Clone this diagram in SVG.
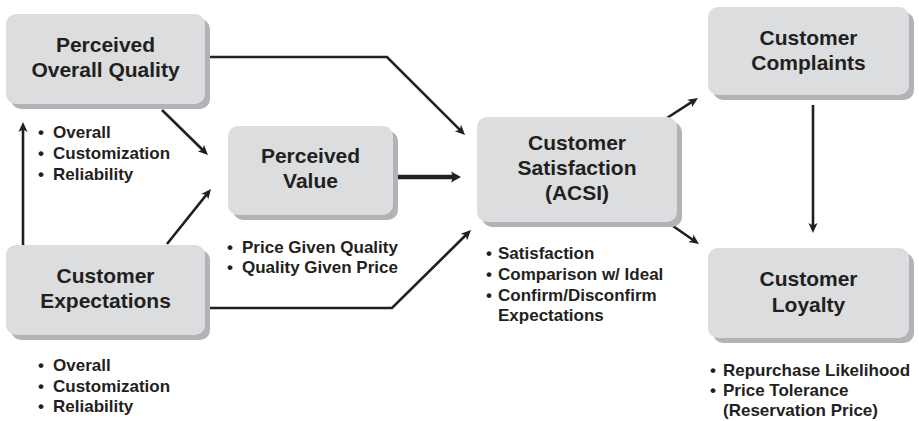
<svg xmlns="http://www.w3.org/2000/svg" width="919" height="421" viewBox="0 0 919 421">
  <style>
    .shadow { fill: #b2b3b6; }
    .box { fill: #dcdddf; }
    .title { font-family: "Liberation Sans", Arial, sans-serif; font-weight: bold; font-size: 21px; fill: #231f20; text-anchor: middle; }
    .item { font-family: "Liberation Sans", Arial, sans-serif; font-weight: bold; font-size: 17px; fill: #231f20; }
    .link { fill: none; stroke: #231f20; stroke-width: 2.6; stroke-linejoin: miter; marker-end: url(#head); }
    .link.heavy { stroke-width: 4.5; marker-end: url(#headHeavy); }
  </style>
  <defs>
    <marker id="head" markerUnits="userSpaceOnUse" viewBox="0 0 10 10" markerWidth="10" markerHeight="10" refX="6" refY="5" orient="auto">
      <path d="M0,0.5 L10,5 L0,9.5 L2.5,5 z" fill="#231f20"/>
    </marker>
    <marker id="headHeavy" markerUnits="userSpaceOnUse" viewBox="0 0 10 12" markerWidth="10" markerHeight="12" refX="4" refY="6" orient="auto">
      <path d="M0,0.5 L10,6 L0,11.5 L2,6 z" fill="#231f20"/>
    </marker>
  </defs>

  <!-- connectors -->
  <g id="connectors">
    <path class="link" d="M23,245 L23,126"/>
    <path class="link" d="M162,110 L205.1,152.2"/>
    <path class="link" d="M167,244 L208.5,192.1"/>
    <path class="link" d="M205,57 L387,57 L462.2,132.2"/>
    <path class="link heavy" d="M397,177 L455,177"/>
    <path class="link" d="M205,308 L392,308 L468.2,232.8"/>
    <path class="link" d="M667,118 L694.6,100.2"/>
    <path class="link" d="M673,226 L695.7,241.7"/>
    <path class="link" d="M813,105 L813,229"/>
  </g>

  <!-- Perceived Overall Quality -->
  <g id="perceived-quality">
    <rect class="shadow" x="11" y="19" width="199" height="90" rx="10"/>
    <rect class="box" x="6" y="14" width="199" height="90" rx="10"/>
    <text class="title" x="105.5" y="52">Perceived</text>
    <text class="title" x="105.5" y="77">Overall Quality</text>
    <text class="item"><tspan x="38" y="138">•</tspan><tspan x="53" y="138">Overall</tspan></text>
    <text class="item"><tspan x="38" y="159">•</tspan><tspan x="53" y="159">Customization</tspan></text>
    <text class="item"><tspan x="38" y="180">•</tspan><tspan x="53" y="180">Reliability</tspan></text>
  </g>

  <!-- Perceived Value -->
  <g id="perceived-value">
    <rect class="shadow" x="233" y="131" width="165" height="89" rx="10"/>
    <rect class="box" x="228" y="126" width="165" height="89" rx="10"/>
    <text class="title" x="310.5" y="163">Perceived</text>
    <text class="title" x="310.5" y="188">Value</text>
    <text class="item"><tspan x="227" y="253">•</tspan><tspan x="242" y="253">Price Given Quality</tspan></text>
    <text class="item"><tspan x="227" y="273">•</tspan><tspan x="242" y="273">Quality Given Price</tspan></text>
  </g>

  <!-- Customer Expectations -->
  <g id="customer-expectations">
    <rect class="shadow" x="11" y="250" width="199" height="90" rx="10"/>
    <rect class="box" x="6" y="245" width="199" height="90" rx="10"/>
    <text class="title" x="105.5" y="283">Customer</text>
    <text class="title" x="105.5" y="308">Expectations</text>
    <text class="item"><tspan x="38" y="371">•</tspan><tspan x="53" y="371">Overall</tspan></text>
    <text class="item"><tspan x="38" y="392">•</tspan><tspan x="53" y="392">Customization</tspan></text>
    <text class="item"><tspan x="38" y="412">•</tspan><tspan x="53" y="412">Reliability</tspan></text>
  </g>

  <!-- Customer Satisfaction (ACSI) -->
  <g id="customer-satisfaction">
    <rect class="shadow" x="482" y="122" width="200" height="105" rx="10"/>
    <rect class="box" x="477" y="117" width="200" height="105" rx="10"/>
    <text class="title" x="577" y="150">Customer</text>
    <text class="title" x="577" y="175">Satisfaction</text>
    <text class="title" x="577" y="200">(ACSI)</text>
    <text class="item"><tspan x="486" y="259">•</tspan><tspan x="498" y="259">Satisfaction</tspan></text>
    <text class="item"><tspan x="486" y="280">•</tspan><tspan x="498" y="280">Comparison w/ Ideal</tspan></text>
    <text class="item"><tspan x="486" y="301">•</tspan><tspan x="498" y="301">Confirm/Disconfirm</tspan></text>
    <text class="item"><tspan x="498" y="321">Expectations</tspan></text>
  </g>

  <!-- Customer Complaints -->
  <g id="customer-complaints">
    <rect class="shadow" x="713" y="12" width="201" height="88" rx="10"/>
    <rect class="box" x="708" y="7" width="201" height="88" rx="10"/>
    <text class="title" x="808.5" y="45">Customer</text>
    <text class="title" x="808.5" y="70">Complaints</text>
  </g>

  <!-- Customer Loyalty -->
  <g id="customer-loyalty">
    <rect class="shadow" x="713" y="253" width="201" height="90" rx="10"/>
    <rect class="box" x="708" y="248" width="201" height="90" rx="10"/>
    <text class="title" x="808.5" y="286">Customer</text>
    <text class="title" x="808.5" y="312">Loyalty</text>
    <text class="item"><tspan x="710" y="376">•</tspan><tspan x="723" y="376">Repurchase Likelihood</tspan></text>
    <text class="item"><tspan x="710" y="396">•</tspan><tspan x="723" y="396">Price Tolerance</tspan></text>
    <text class="item"><tspan x="723" y="416">(Reservation Price)</tspan></text>
  </g>
</svg>
